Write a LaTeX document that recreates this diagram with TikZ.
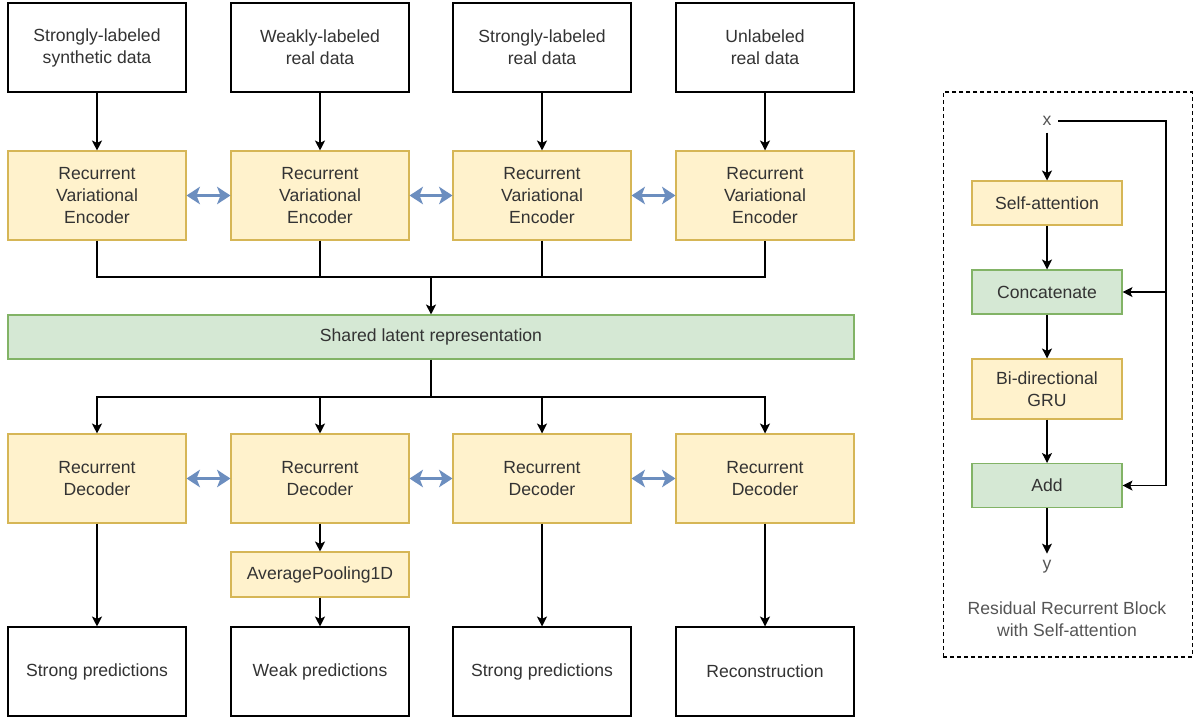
\documentclass[tikz,border=0pt]{standalone}
\usepackage{fontspec}
\setmainfont{Liberation Sans}
\usetikzlibrary{positioning,arrows.meta}
\definecolor{DInk}{HTML}{333333}
\definecolor{DSoft}{HTML}{555555}
\definecolor{DYellow}{HTML}{FFF2CC}
\definecolor{DYellowEdge}{HTML}{D6B656}
\definecolor{DGreen}{HTML}{D5E8D4}
\definecolor{DGreenEdge}{HTML}{82B366}
\definecolor{DBlue}{HTML}{6C8EBF}

\begin{document}
\begin{tikzpicture}[x=0.75pt, y=-0.75pt,
  every node/.style={font=\fontsize{13.2}{16.5}\selectfont, text=DInk, align=center, inner sep=0pt},
  plainbox/.style={draw=black, line width=0.8pt, fill=white, minimum width=133.5pt, minimum height=66.75pt},
  yellowbox/.style={plainbox, draw=DYellowEdge, fill=DYellow},
  smallbox/.style={yellowbox, minimum width=112.5pt, minimum height=33pt},
  greenbox/.style={smallbox, draw=DGreenEdge, fill=DGreen},
  flow/.style={-{Stealth[length=7.5pt,width=7.5pt,inset=1.8pt]}, line width=0.85pt},
  swap/.style={{Stealth[length=10pt,width=13pt,inset=2.5pt]}-{Stealth[length=10pt,width=13pt,inset=2.5pt]}, DBlue, line width=2.6pt},
  port/.style={text=DSoft, inner sep=5pt}]
\useasboundingbox (0,0) rectangle (1194,719);

% inputs
\node[plainbox] (src1) at (97,47.5)  {Strongly-labeled\\synthetic data};
\node[plainbox] (src2) at (320,47.5) {Weakly-labeled\\real data};
\node[plainbox] (src3) at (542,47.5) {Strongly-labeled\\real data};
\node[plainbox] (src4) at (765,47.5) {Unlabeled\\real data};

% encoders
\node[yellowbox] (enc1) at (97,195.5)  {Recurrent\\Variational\\Encoder};
\node[yellowbox] (enc2) at (320,195.5) {Recurrent\\Variational\\Encoder};
\node[yellowbox] (enc3) at (542,195.5) {Recurrent\\Variational\\Encoder};
\node[yellowbox] (enc4) at (765,195.5) {Recurrent\\Variational\\Encoder};

\node[greenbox, minimum width=634.5pt] (latent) at (431,337) {Shared latent representation};

% decoders
\node[yellowbox] (dec1) at (97,478.5)  {Recurrent\\Decoder};
\node[yellowbox] (dec2) at (320,478.5) {Recurrent\\Decoder};
\node[yellowbox] (dec3) at (542,478.5) {Recurrent\\Decoder};
\node[yellowbox] (dec4) at (765,478.5) {Recurrent\\Decoder};

\node[smallbox, minimum width=133.5pt, minimum height=33.75pt] (pool) at (320,574.5) {AveragePooling1D};

% outputs
\node[plainbox] (out1) at (97,671.5)  {Strong predictions};
\node[plainbox] (out2) at (320,671.5) {Weak predictions};
\node[plainbox] (out3) at (542,671.5) {Strong predictions};
\node[plainbox] (out4) at (765,671.5) {Reconstruction};

\coordinate (merge) at (431,277);
\coordinate (split) at (431,397);

\foreach \i in {1,...,4}{
  \draw[flow] (src\i) -- (enc\i);
  \draw[flow] (split) -| (dec\i);
}
\draw[line width=0.85pt] (enc1) |- (merge) -| (enc4);
\draw[line width=0.85pt] (enc2) |- (merge);
\draw[line width=0.85pt] (enc3) |- (merge);
\draw[flow] (merge) -- (latent);
\draw[line width=0.85pt] (latent) -- (split);

\foreach \a/\b in {1/2,2/3,3/4}{
  \draw[swap] (enc\a) -- (enc\b);
  \draw[swap] (dec\a) -- (dec\b);
}

\draw[flow] (dec1) -- (out1);
\draw[flow] (dec2) -- (pool);
\draw[flow] (pool) -- (out2);
\draw[flow] (dec3) -- (out3);
\draw[flow] (dec4) -- (out4);

% residual block
\node[draw=black, dashed, dash pattern=on 3pt off 2.25pt, line width=0.8pt, minimum width=186.75pt, minimum height=423.75pt] (frame) at (1067.75,374.5) {};
\node[port] (xin) at (1047,121) {x};
\node[smallbox] (attn) at (1047,203) {Self-attention};
\node[greenbox] (concat) at (1047,292) {Concatenate};
\node[smallbox, minimum height=45pt] (gru) at (1047,389) {Bi-directional\\GRU};
\node[greenbox] (add) at (1047,485.5) {Add};
\node[port] (yout) at (1047,567) {y};
\node[text=DSoft] (caption) at (1067,619) {Residual Recurrent Block\\with Self-attention};
\coordinate (loop) at (1166,121);

\draw[flow] (xin) -- (attn);
\draw[flow] (attn) -- (concat);
\draw[flow] (concat) -- (gru);
\draw[flow] (gru) -- (add);
\draw[flow] (add) -- (yout);
\draw[flow] (xin) -- (loop) |- (add);
\draw[flow] (loop |- concat) -- (concat);
\end{tikzpicture}
\end{document}
